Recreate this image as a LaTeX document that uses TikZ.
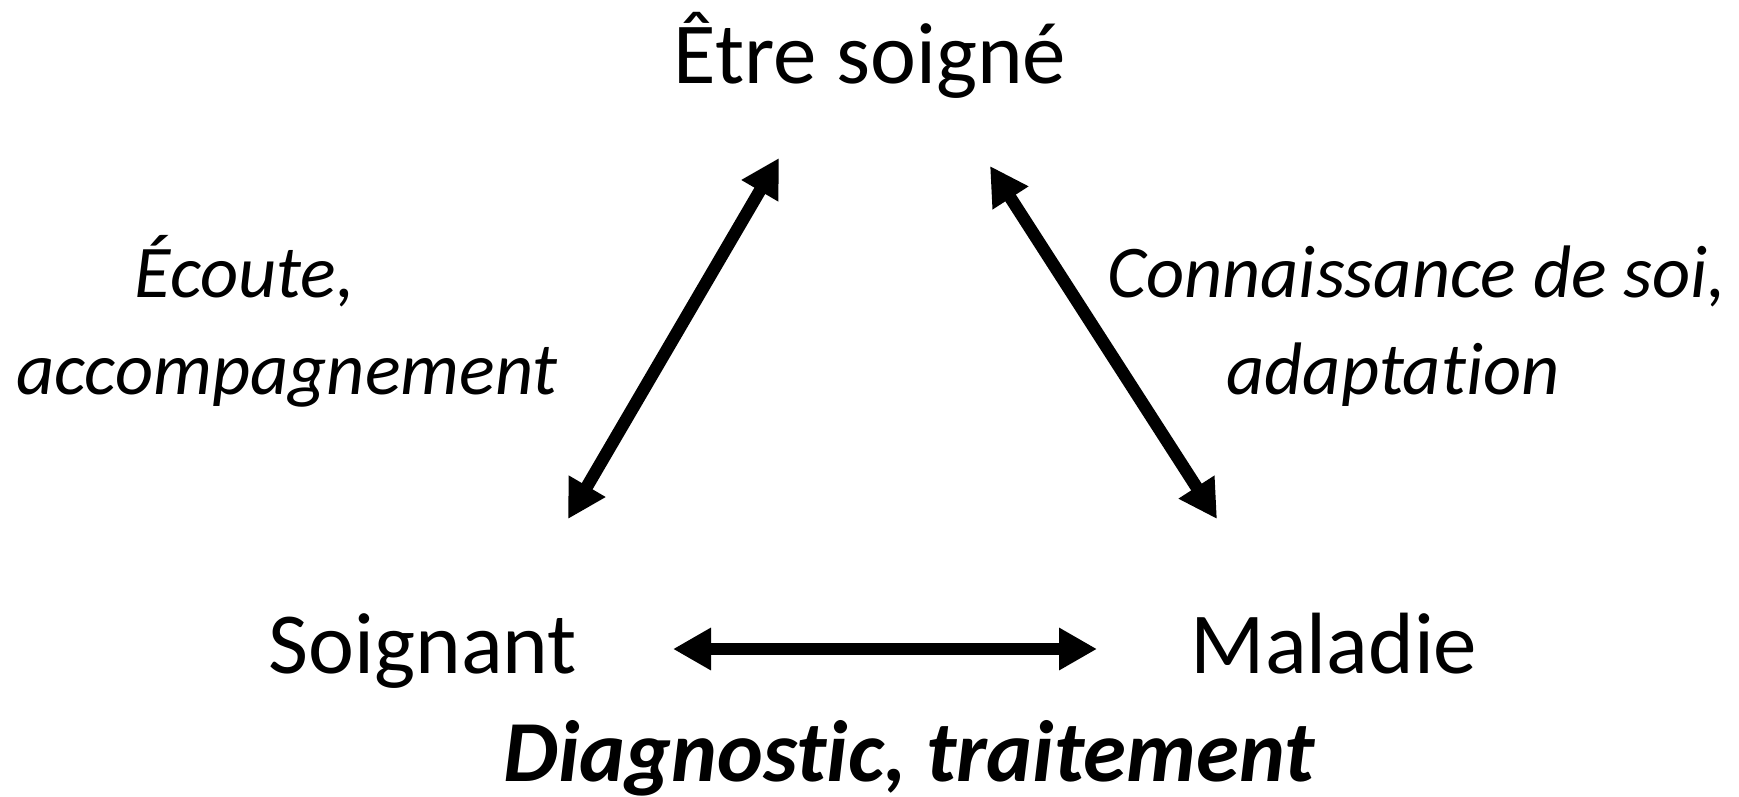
\documentclass[tikz,border=0pt]{standalone}
\usepackage{fontspec}
\setmainfont{Carlito}[Ligatures=NoCommon]
\usepackage{tikz}
\usetikzlibrary{arrows.meta,positioning}
\tikzset{%
	pole/.style = {anchor=base, inner sep=0pt, font=\fontsize{43.5}{52}\selectfont},
	role/.style = {anchor=base, inner sep=0pt, font=\fontsize{37.2}{44}\selectfont\itshape},
	link/.style = {line width=6.25pt, {Triangle[length=19pt,width=20pt]}-{Triangle[length=19pt,width=20pt]}},
}
\begin{document}
\begin{tikzpicture}[x=0.5pt,y=-0.5pt]
	\useasboundingbox (0,0) rectangle (1739,797);
	% les trois poles
	\node[pole] (etre) at (870,84) {Être soigné};
	\node[pole] (soignant) at (423,673) {Soignant};
	\node[pole] (maladie) at (1334,673) {Maladie};
	% les relations
	\node[role] (ecoute) at (245,297) {Écoute,};
	\node[role] (accomp) at (287,394) {accompagnement};
	\node[role] (connais) at (1417,297) {Connaissance de soi,};
	\node[role] (adapt) at (1393,394) {adaptation};
	\node[pole, font=\fontsize{43.5}{52}\selectfont\bfseries\itshape] (diag) at (909,781) {Diagnostic, traitement};
	% extremites des fleches
	\coordinate (etreL) at (779,158);
	\coordinate (soignantT) at (568,519);
	\coordinate (etreR) at (990,166);
	\coordinate (maladieT) at (1217,519);
	\coordinate (soignantR) at (673,649);
	\coordinate (maladieL) at (1097,649);
	\draw[link] (soignantT) -- (etreL);
	\draw[link] (maladieT) -- (etreR);
	\draw[link] (soignantR) -- (maladieL);
\end{tikzpicture}
\end{document}
